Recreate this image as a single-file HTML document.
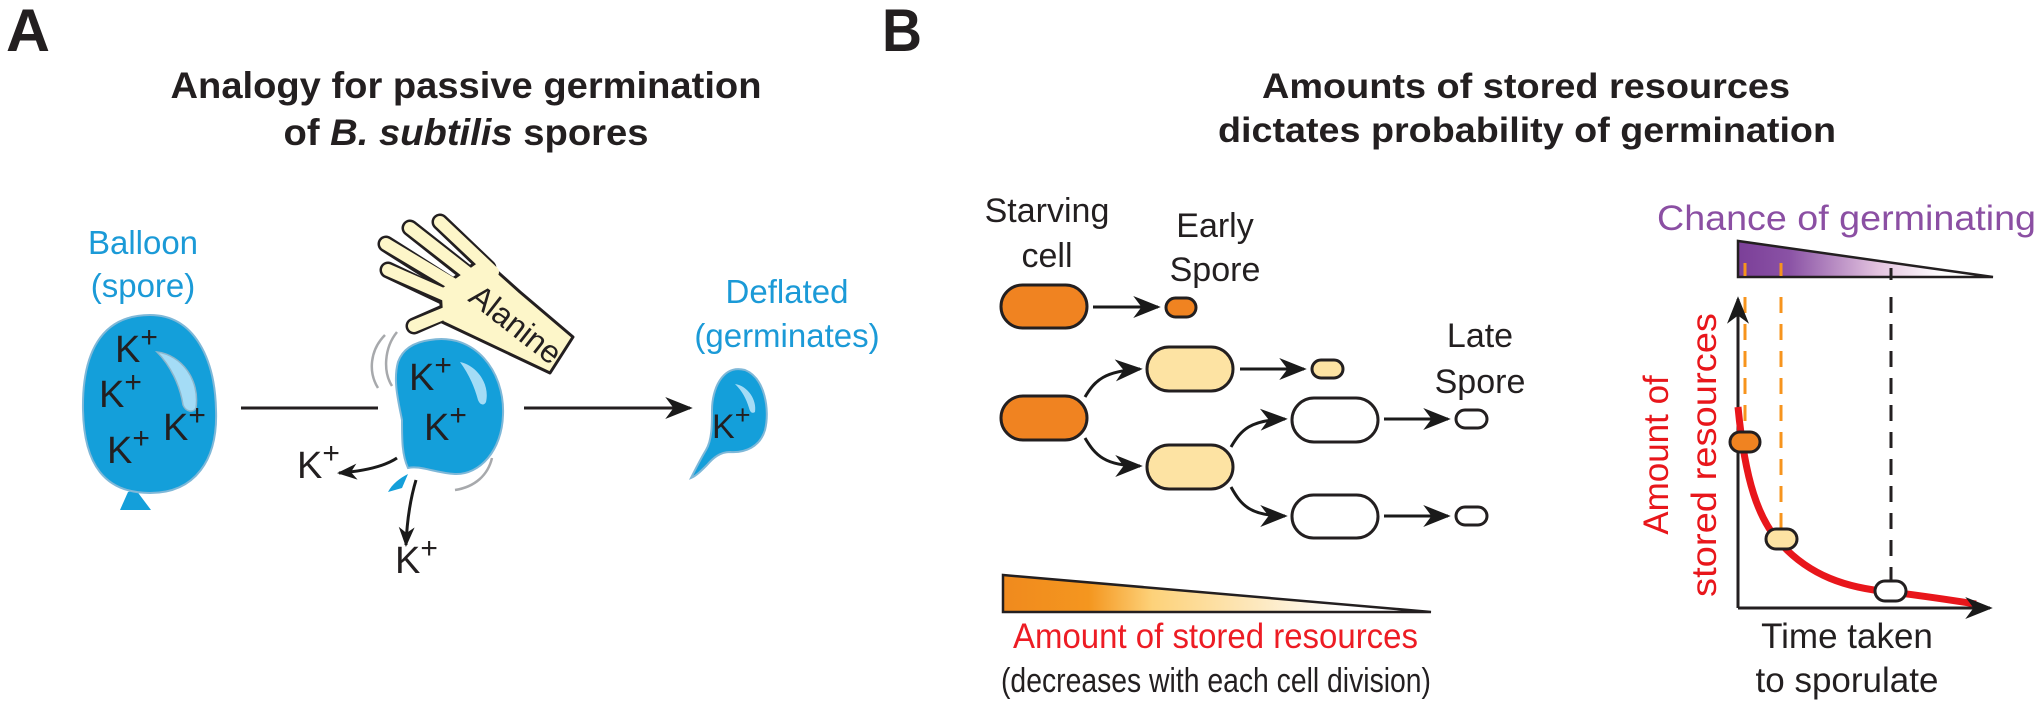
<!DOCTYPE html>
<html><head><meta charset="utf-8"><style>
html,body{margin:0;padding:0;background:#fff;width:2040px;height:707px;overflow:hidden}
svg{display:block}
text{font-family:"Liberation Sans",Arial,sans-serif}
</style></head><body>
<svg width="2040" height="707" viewBox="0 0 2040 707" xmlns="http://www.w3.org/2000/svg">
<defs>
<marker id="ah" viewBox="0 0 20 16" refX="18" refY="8" markerWidth="20" markerHeight="16" markerUnits="userSpaceOnUse" orient="auto">
<path d="M0,0 L20,8 L0,16 L6,8 Z" fill="#1a1a1a"/></marker>
<marker id="ahb" viewBox="0 0 20 16" refX="18" refY="8" markerWidth="28" markerHeight="22" markerUnits="userSpaceOnUse" orient="auto">
<path d="M0,0 L20,8 L0,16 L6,8 Z" fill="#1a1a1a"/></marker>
<linearGradient id="og" x1="1003" y1="0" x2="1431" y2="0" gradientUnits="userSpaceOnUse">
<stop offset="0" stop-color="#f08a1e"/><stop offset="0.2" stop-color="#f4961f"/><stop offset="0.35" stop-color="#fdd27a"/><stop offset="0.6" stop-color="#fde9c0"/><stop offset="0.8" stop-color="#fff"/></linearGradient>
<linearGradient id="pg" x1="1738" y1="0" x2="1993" y2="0" gradientUnits="userSpaceOnUse">
<stop offset="0" stop-color="#7b3f98"/><stop offset="0.2" stop-color="#8a52a5"/><stop offset="0.55" stop-color="#e3c3df"/><stop offset="0.8" stop-color="#fff"/></linearGradient>
</defs>

<text x="6" y="51" font-size="60" font-weight="bold" fill="#231f20" textLength="44" lengthAdjust="spacingAndGlyphs">A</text>
<text x="882" y="51" font-size="60" font-weight="bold" fill="#231f20" textLength="40" lengthAdjust="spacingAndGlyphs">B</text>

<text x="466" y="98" font-size="37" font-weight="bold" fill="#231f20" text-anchor="middle" textLength="591" lengthAdjust="spacingAndGlyphs">Analogy for passive germination</text>
<text x="466" y="145" font-size="37" font-weight="bold" fill="#231f20" text-anchor="middle" textLength="365" lengthAdjust="spacingAndGlyphs">of <tspan font-style="italic">B. subtilis</tspan> spores</text>
<text x="1526" y="98" font-size="35" font-weight="bold" fill="#231f20" text-anchor="middle" textLength="528" lengthAdjust="spacingAndGlyphs">Amounts of stored resources</text>
<text x="1527" y="142" font-size="35" font-weight="bold" fill="#231f20" text-anchor="middle" textLength="618" lengthAdjust="spacingAndGlyphs">dictates probability of germination</text>

<text x="143" y="254" font-size="33" fill="#1b9ad7" text-anchor="middle">Balloon</text>
<text x="143" y="297" font-size="33" fill="#1b9ad7" text-anchor="middle">(spore)</text>

<path d="M128,492 L120,510 L151,510 L136,490 Z" fill="#149fda"/>
<path d="M150,315 C195,315 215,360 216,410 C218,460 195,493 150,493 C105,493 84,465 83,410 C82,355 100,315 150,315 Z" fill="#149fda" stroke="#7fb8d8" stroke-width="2"/>
<path d="M157,352 C182,355 200,380 196,408 C193,413 186,412 183,405 C180,385 170,365 157,352 Z" fill="#a4dcf6" stroke="#8bb6cc" stroke-width="1.5"/>
<g font-size="38" fill="#231f20">
<text x="115" y="362">K<tspan font-size="30" dy="-15">+</tspan></text>
<text x="99" y="407">K<tspan font-size="30" dy="-15">+</tspan></text>
<text x="107" y="463">K<tspan font-size="30" dy="-15">+</tspan></text>
<text x="163" y="440">K<tspan font-size="30" dy="-15">+</tspan></text>
</g>

<line x1="241" y1="408" x2="378" y2="408" stroke="#231f20" stroke-width="3"/>

<path d="M385,335 C370,350 368,372 378,388" fill="none" stroke="#a7a9ac" stroke-width="2.5"/>
<path d="M397,332 C384,348 383,372 392,386" fill="none" stroke="#a7a9ac" stroke-width="2.5"/>
<path d="M492,458 C488,475 475,487 455,490" fill="none" stroke="#a7a9ac" stroke-width="2.5"/>

<path d="M388,492 C392,484 400,478 408,474 L402,488 Z" fill="#149fda"/>
<path d="M430,340 C475,332 505,372 503,415 C502,450 480,475 455,474 C435,473 420,465 408,468 C402,455 402,440 402,420 C398,400 393,380 398,362 C403,348 415,342 430,340 Z" fill="#149fda" stroke="#7fb8d8" stroke-width="2"/>
<path d="M460,362 C478,366 490,385 486,402 C484,406 480,405 478,400 C474,385 468,373 460,362 Z" fill="#a4dcf6"/>
<g font-size="38" fill="#231f20">
<text x="409" y="390">K<tspan font-size="30" dy="-15">+</tspan></text>
<text x="424" y="440">K<tspan font-size="30" dy="-15">+</tspan></text>
<text x="297" y="478">K<tspan font-size="30" dy="-15">+</tspan></text>
<text x="395" y="573">K<tspan font-size="30" dy="-15">+</tspan></text>
</g>
<path d="M397,458 C385,466 365,471 339,473" fill="none" stroke="#1a1a1a" stroke-width="3" marker-end="url(#ah)"/>
<path d="M416,480 C410,500 407,520 406,545" fill="none" stroke="#1a1a1a" stroke-width="3" marker-end="url(#ah)"/>

<g stroke-linecap="round" stroke-linejoin="round">
<g stroke="#231f20" stroke-width="17" fill="none">
<line x1="447" y1="298" x2="388" y2="270"/>
<line x1="452" y1="286" x2="386" y2="244"/>
<line x1="468" y1="274" x2="410" y2="228"/>
<line x1="488" y1="268" x2="440" y2="222"/>
<line x1="455" y1="308" x2="414" y2="326"/>
</g>
<path d="M440,288 L482,258 L520,292 L573,337 L550,373 L442,322 Z" fill="#fdf6c9" stroke="#231f20" stroke-width="3"/>
<g stroke="#fdf6c9" stroke-width="12" fill="none">
<line x1="452" y1="298" x2="388" y2="270"/>
<line x1="458" y1="287" x2="386" y2="244"/>
<line x1="473" y1="277" x2="410" y2="228"/>
<line x1="493" y1="272" x2="440" y2="222"/>
<line x1="460" y1="307" x2="414" y2="326"/>
</g>
<path d="M446,292 L483,264 L516,296 L566,339 L548,366 L448,318 Z" fill="#fdf6c9"/>
</g>
<text x="0" y="0" font-size="32" fill="#231f20" text-anchor="middle" transform="translate(509,333) rotate(38)">Alanine</text>

<line x1="524" y1="408" x2="690" y2="408" stroke="#231f20" stroke-width="3" marker-end="url(#ahb)"/>

<text x="787" y="303" font-size="33" fill="#1b9ad7" text-anchor="middle">Deflated</text>
<text x="787" y="347" font-size="33" fill="#1b9ad7" text-anchor="middle">(germinates)</text>
<path d="M745,370 C765,378 770,410 765,430 C760,447 745,453 730,452 C720,452 713,458 707,465 C701,471 696,476 691,478 C695,470 700,460 706,450 C712,440 712,425 712,410 C712,390 722,364 745,370 Z" fill="#149fda" stroke="#7fb8d8" stroke-width="2"/>
<path d="M735,384 C748,386 757,400 755,412 C752,414 750,412 749,408 C746,398 742,391 735,384 Z" fill="#a4dcf6"/>
<text x="712" y="438" font-size="34" fill="#231f20">K<tspan font-size="27" dy="-14">+</tspan></text>

<g font-size="34" fill="#231f20" text-anchor="middle">
<text x="1047" y="222">Starving</text>
<text x="1047" y="267">cell</text>
<text x="1215" y="237">Early</text>
<text x="1215" y="281">Spore</text>
<text x="1480" y="347">Late</text>
<text x="1480" y="393">Spore</text>
</g>
<g stroke="#231f20" stroke-width="3">
<rect x="1001" y="285" width="86" height="43" rx="21.5" fill="#f08321"/>
<rect x="1166" y="298" width="30" height="19" rx="9.5" fill="#f08321"/>
<rect x="1001" y="396" width="86" height="44" rx="22" fill="#f08321"/>
<rect x="1147" y="347" width="86" height="44" rx="22" fill="#fde3a3"/>
<rect x="1147" y="445" width="86" height="44" rx="22" fill="#fde3a3"/>
<rect x="1312" y="360" width="31" height="18" rx="9" fill="#fde3a3"/>
<rect x="1292" y="398" width="86" height="44" rx="22" fill="#fff"/>
<rect x="1292" y="495" width="86" height="43" rx="21.5" fill="#fff"/>
<rect x="1456" y="410" width="31" height="18" rx="9" fill="#fff"/>
<rect x="1456" y="507" width="31" height="18" rx="9" fill="#fff"/>
</g>
<g stroke="#1a1a1a" stroke-width="3" fill="none">
<line x1="1093" y1="307" x2="1158" y2="307" marker-end="url(#ahb)"/>
<line x1="1240" y1="369" x2="1304" y2="369" marker-end="url(#ahb)"/>
<line x1="1384" y1="419" x2="1448" y2="419" marker-end="url(#ahb)"/>
<line x1="1384" y1="516" x2="1448" y2="516" marker-end="url(#ahb)"/>
<path d="M1085,397 C1095,380 1105,371 1140,369" marker-end="url(#ahb)"/>
<path d="M1085,438 C1095,455 1105,466 1140,466" marker-end="url(#ahb)"/>
<path d="M1231,447 C1241,430 1250,420 1285,419" marker-end="url(#ahb)"/>
<path d="M1231,487 C1241,505 1250,516 1285,516" marker-end="url(#ahb)"/>
</g>

<path d="M1003,575 L1431,612 L1003,612 Z" fill="url(#og)"/>
<path d="M1003,612 L1003,575 L1431,612 Z" fill="none" stroke="#231f20" stroke-width="2.5"/>
<text x="1013" y="648" font-size="35" fill="#ed1c24" textLength="405" lengthAdjust="spacingAndGlyphs">Amount of stored resources</text>
<text x="1216" y="692" font-size="34" fill="#231f20" text-anchor="middle" textLength="430" lengthAdjust="spacingAndGlyphs">(decreases with each cell division)</text>

<text x="1657" y="230" font-size="35" fill="#8b4fa3" textLength="379" lengthAdjust="spacingAndGlyphs">Chance of germinating</text>
<path d="M1738,241 L1993,277 L1738,277 Z" fill="url(#pg)"/>
<path d="M1738,277 L1738,241 L1993,277 Z" fill="none" stroke="#231f20" stroke-width="2.5"/>
<g stroke-width="3">
<line x1="1745" y1="263" x2="1745" y2="276" stroke="#f7941d"/>
<line x1="1781" y1="263" x2="1781" y2="276" stroke="#f7941d"/>
<line x1="1891" y1="268" x2="1891" y2="280" stroke="#231f20"/>
</g>
<g stroke-width="3" stroke-dasharray="16,11" fill="none">
<line x1="1745" y1="297" x2="1745" y2="432" stroke="#f7941d"/>
<line x1="1781" y1="297" x2="1781" y2="528" stroke="#f7941d"/>
<line x1="1891" y1="297" x2="1891" y2="582" stroke="#231f20"/>
</g>
<line x1="1738" y1="608" x2="1738" y2="299" stroke="#231f20" stroke-width="3" marker-end="url(#ahb)"/>
<path d="M1738,407 C1745,480 1758,520 1782,545 C1810,575 1845,588 1891,592 C1925,596 1950,600 1976,604" fill="none" stroke="#e8161b" stroke-width="7"/>
<line x1="1738" y1="608" x2="1990" y2="608" stroke="#231f20" stroke-width="3" marker-end="url(#ahb)"/>
<g stroke="#231f20" stroke-width="3">
<rect x="1730" y="432" width="30" height="20" rx="10" fill="#f08321"/>
<rect x="1766" y="529" width="31" height="20" rx="10" fill="#fde3a3"/>
<rect x="1875" y="581" width="31" height="20" rx="10" fill="#fff"/>
</g>
<g font-size="35" fill="#e8161b" text-anchor="middle">
<text transform="translate(1668,455) rotate(-90)">Amount of</text>
<text transform="translate(1716,455) rotate(-90)" textLength="284" lengthAdjust="spacingAndGlyphs">stored resources</text>
</g>
<text x="1847" y="648" font-size="35" fill="#231f20" text-anchor="middle">Time taken</text>
<text x="1847" y="692" font-size="35" fill="#231f20" text-anchor="middle">to sporulate</text>
</svg>
</body></html>
